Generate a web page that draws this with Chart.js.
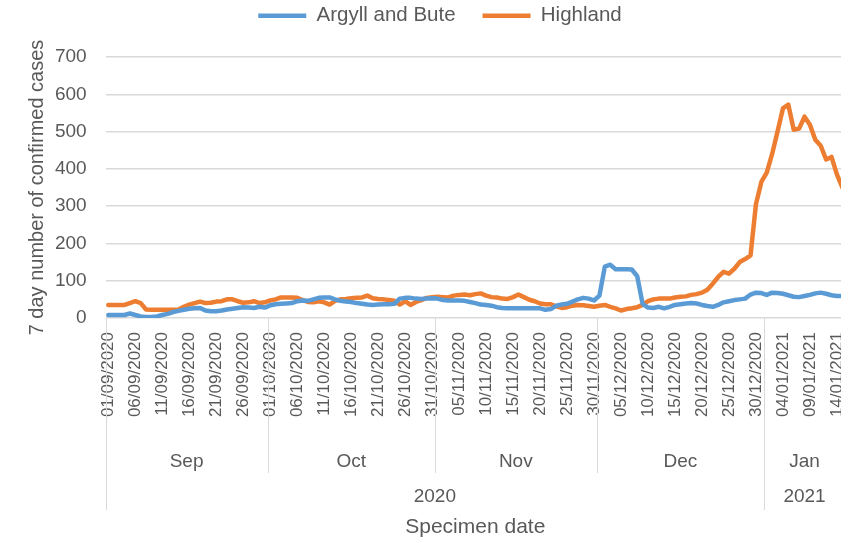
<!DOCTYPE html>
<html>
<head>
<meta charset="utf-8">
<script src="https://cdn.jsdelivr.net/npm/chart.js@4.4.1/dist/chart.umd.min.js"></script>
<style>
  html, body { margin: 0; padding: 0; background: #fff; overflow: hidden; }
</style>
</head>
<body>
<canvas id="chart" width="880" height="542"></canvas>
<script>
// first specimen date of the series (1 Sep 2020), one value per day
const startDate = [2020, 8, 1];
const monthNames = ['Jan', 'Feb', 'Mar', 'Apr', 'May', 'Jun', 'Jul', 'Aug', 'Sep', 'Oct', 'Nov', 'Dec'];

const argyllAndBute = [
  8, 8, 8, 8, 12, 8, 4, 3, 3, 4, 8, 11, 16, 19, 22, 25, 26, 27, 20, 18,
  18, 20, 23, 25, 27, 29, 28, 27, 30, 28, 34, 37, 38, 39, 40, 45, 47, 46, 50, 54,
  55, 55, 50, 46, 44, 43, 40, 38, 36, 35, 36, 37, 37, 38, 52, 54, 54, 52, 51, 52,
  53, 52, 48, 47, 47, 47, 46, 43, 40, 36, 35, 33, 29, 27, 26, 26, 26, 26, 26, 26,
  26, 22, 24, 33, 36, 38, 44, 50, 54, 52, 47, 60, 138, 143, 131, 131, 131, 130, 112, 38,
  28, 27, 30, 26, 30, 35, 37, 39, 40, 39, 35, 32, 30, 35, 42, 45, 48, 50, 52, 63,
  68, 67, 62, 68, 67, 65, 61, 57, 56, 59, 62, 66, 68, 65, 61, 59, 59
];

const highland = [
  35, 35, 35, 35, 40, 45, 40, 23, 22, 22, 22, 22, 22, 23, 30, 36, 40, 44, 40, 41,
  44, 45, 50, 50, 45, 41, 42, 45, 40, 42, 47, 50, 55, 55, 55, 54, 48, 43, 42, 45,
  42, 36, 46, 50, 51, 53, 54, 55, 60, 53, 51, 50, 48, 46, 36, 45, 35, 43, 48, 54,
  56, 57, 56, 55, 60, 62, 63, 61, 64, 66, 60, 56, 55, 52, 51, 56, 63, 56, 49, 45,
  39, 37, 37, 31, 27, 29, 33, 35, 34, 32, 30, 33, 35, 30, 26, 20, 24, 26, 29, 35,
  45, 50, 52, 52, 52, 55, 57, 58, 62, 64, 68, 76, 92, 110, 124, 119, 132, 150, 158, 168,
  305, 365, 390, 440, 500, 562, 572, 505, 508, 540, 518, 478, 462, 425, 432, 385, 350
];

const yMax = 700;
const yStep = 100;

const textColor = '#595959';
const gridColor = '#d9d9d9';
const fontFamily = "'Liberation Sans', Arial, sans-serif";

// dd/mm/yyyy labels, plus month and year of each day for the lower axis rows
const days = highland.map((_, i) => new Date(Date.UTC(startDate[0], startDate[1], startDate[2] + i)));
const pad2 = n => String(n).padStart(2, '0');
const dateLabels = days.map(d => `${pad2(d.getUTCDate())}/${pad2(d.getUTCMonth() + 1)}/${d.getUTCFullYear()}`);

function groupBy(keyOf, labelOf) {
  const groups = [];
  days.forEach((d, i) => {
    const last = groups[groups.length - 1];
    if (last && last.key === keyOf(d)) last.end = i;
    else groups.push({ key: keyOf(d), label: labelOf(d), start: i, end: i });
  });
  return groups;
}
const monthGroups = groupBy(d => d.getUTCFullYear() * 12 + d.getUTCMonth(), d => monthNames[d.getUTCMonth()]);
const yearGroups = groupBy(d => d.getUTCFullYear(), d => String(d.getUTCFullYear()));

const legendSpace = {
  id: 'legendSpace',
  beforeInit(chart) {
    const fit = chart.legend.fit;
    chart.legend.fit = function () {
      fit.call(this);
      this.height += 21;
    };
  },
};

const categoryLevels = {
  id: 'categoryLevels',
  afterDraw(chart) {
    const { ctx, chartArea } = chart;
    const scale = chart.scales.x;
    const half = (scale.getPixelForValue(1) - scale.getPixelForValue(0)) / 2;
    const edge = i => (i === 0 ? chartArea.left : scale.getPixelForValue(i) - half);
    const top = chartArea.bottom;

    const drawRow = (groups, lineBottom, textY) => {
      ctx.save();
      ctx.strokeStyle = gridColor;
      ctx.lineWidth = 1;
      groups.forEach(g => {
        const x = Math.round(edge(g.start)) + 0.5;
        ctx.beginPath();
        ctx.moveTo(x, top);
        ctx.lineTo(x, lineBottom);
        ctx.stroke();
      });
      ctx.fillStyle = textColor;
      ctx.font = `19px ${fontFamily}`;
      ctx.textAlign = 'center';
      ctx.textBaseline = 'middle';
      groups.forEach((g, k) => {
        const right = k === groups.length - 1 ? chartArea.right : edge(g.end + 1);
        ctx.fillText(g.label, (edge(g.start) + right) / 2, textY);
      });
      ctx.restore();
    };

    drawRow(monthGroups, top + 155, top + 144);
    drawRow(yearGroups, top + 192, top + 179);
  },
};

new Chart(document.getElementById('chart').getContext('2d'), {
  type: 'line',
  data: {
    labels: dateLabels,
    datasets: [
      {
        label: 'Argyll and Bute',
        data: argyllAndBute,
        borderColor: '#5b9bd5',
        backgroundColor: '#5b9bd5',
        borderWidth: 4.5,
        borderCapStyle: 'round',
        borderJoinStyle: 'round',
        pointRadius: 0,
        tension: 0,
        fill: false,
      },
      {
        label: 'Highland',
        data: highland,
        borderColor: '#ed7d31',
        backgroundColor: '#ed7d31',
        borderWidth: 4.5,
        borderCapStyle: 'round',
        borderJoinStyle: 'round',
        pointRadius: 0,
        tension: 0,
        fill: false,
      },
    ],
  },
  options: {
    responsive: false,
    animation: false,
    layout: { padding: { top: -21.5, right: 0, bottom: 0, left: 0 } },
    plugins: {
      legend: {
        position: 'top',
        labels: {
          usePointStyle: true,
          pointStyle: 'line',
          pointStyleWidth: 48,
          padding: 27,
          color: textColor,
          font: { family: fontFamily, size: 20.5 },
        },
      },
      tooltip: { enabled: false },
    },
    scales: {
      x: {
        offset: true,
        grid: { display: false },
        border: { display: false },
        ticks: {
          autoSkip: false,
          minRotation: 90,
          maxRotation: 90,
          padding: 6,
          color: textColor,
          font: { family: fontFamily, size: 17 },
          callback(value, index) {
            return index % 5 === 0 ? this.getLabelForValue(value) : '';
          },
        },
        title: {
          display: true,
          text: 'Specimen date',
          color: textColor,
          font: { family: fontFamily, size: 21 },
          padding: { top: 0, bottom: 2 },
        },
        afterFit(scale) {
          scale.height = 224;
          // the plot runs past the right edge of the picture
          scale.paddingRight = 35;
        },
      },
      y: {
        min: 0,
        max: yMax,
        grid: { color: gridColor, lineWidth: 1.5, drawTicks: false },
        border: { display: false },
        ticks: {
          stepSize: yStep,
          padding: 19,
          color: textColor,
          font: { family: fontFamily, size: 19 },
        },
        title: {
          display: true,
          text: '7 day number of confirmed cases',
          color: textColor,
          font: { family: fontFamily, size: 20 },
          padding: { top: 25, bottom: 0 },
        },
        afterFit(scale) {
          scale.width = 105.6;
        },
      },
    },
  },
  plugins: [legendSpace, categoryLevels],
});
</script>
</body>
</html>
